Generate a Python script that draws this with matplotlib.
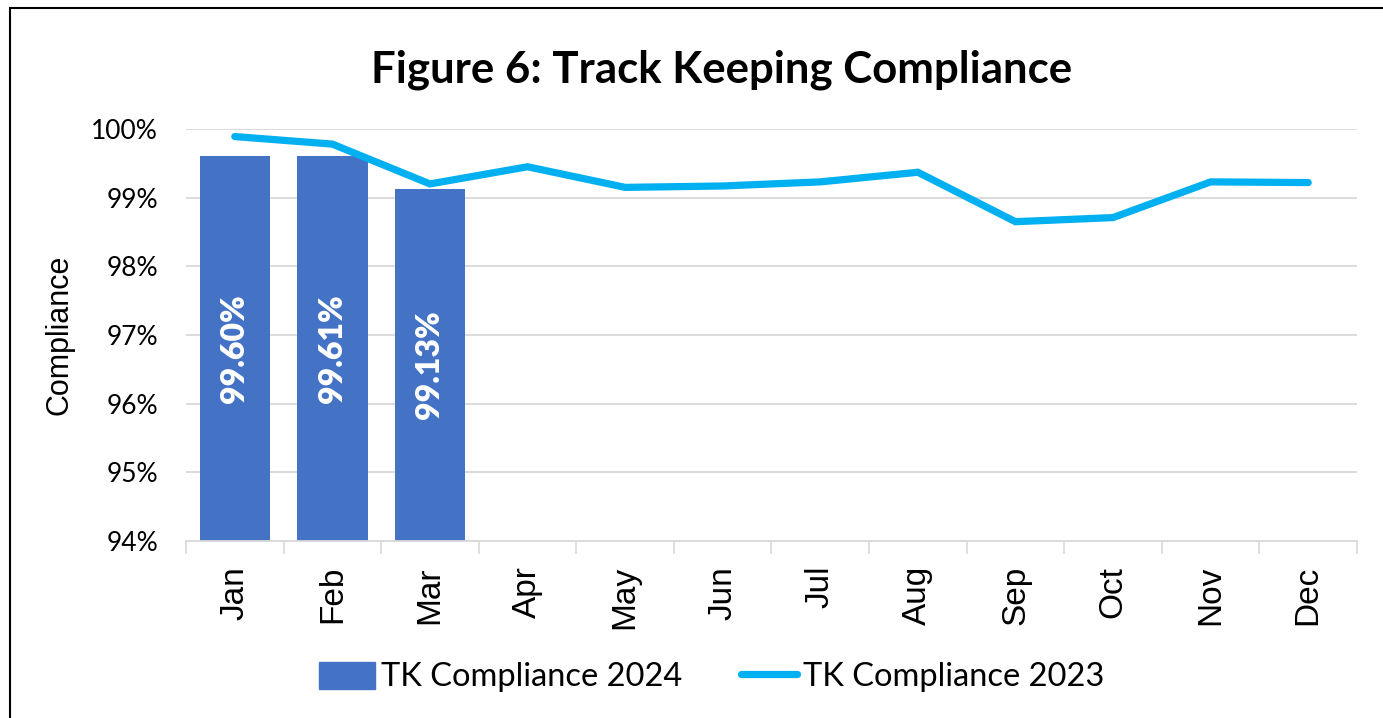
import matplotlib.pyplot as plt
import matplotlib.patches as mpatches
import numpy as np

# Data
months = ['Jan', 'Feb', 'Mar', 'Apr', 'May', 'Jun', 'Jul', 'Aug', 'Sep', 'Oct', 'Nov', 'Dec']
tk_2024 = [99.60, 99.61, 99.13]
tk_2023 = [99.89, 99.78, 99.20, 99.45, 99.15, 99.17, 99.23, 99.37, 98.65, 98.71, 99.23, 99.22]
y_ticks = [94, 95, 96, 97, 98, 99, 100]

bar_color = '#4472C4'
line_color = '#00B0F0'
font_main = ['Lato', 'DejaVu Sans']
font_ticks = ['Liberation Sans', 'DejaVu Sans']

fig = plt.figure(figsize=(13.83, 7.18), dpi=100)
ax = fig.add_axes([186 / 1383, 1 - 541 / 718, (1357 - 186) / 1383, (541 - 129) / 718])
y_min = y_ticks[0]

x = np.arange(len(months))
bars = ax.bar(x[:len(tk_2024)], tk_2024, width=0.72, color=bar_color,
              label='TK Compliance 2024', zorder=2)
ax.plot(x, tk_2023, color=line_color, linewidth=5.2, solid_capstyle='round',
        solid_joinstyle='miter', label='TK Compliance 2023', zorder=3)

# value labels centred inside the bars
for rect, v in zip(bars, tk_2024):
    ax.text(rect.get_x() + rect.get_width() / 2, (y_min + v) / 2, f'{v:.2f}%',
            rotation=90, ha='center', va='center', color='white',
            fontsize=23, fontweight='heavy', family=font_main, zorder=4)

ax.set_xlim(-0.5, len(months) - 0.5)
ax.set_ylim(y_min, y_ticks[-1])
ax.set_yticks(y_ticks)
ax.set_yticklabels([f'{t}%' for t in y_ticks], fontsize=19, family=font_main)
ax.set_xticks(x)
ax.set_xticklabels(months, rotation=90, fontsize=24, family=font_ticks)
ax.tick_params(axis='x', length=0, pad=18)
ax.tick_params(axis='y', length=0, pad=20)

# category boundary ticks below the axis
ax.set_xticks(np.arange(-0.5, len(months)), minor=True)
ax.tick_params(axis='x', which='minor', length=9, color='#D9D9D9', width=1.2)

ax.grid(axis='y', color='#D9D9D9', linewidth=1.3, zorder=0)
ax.set_axisbelow(True)
for s in ['top', 'right', 'left']:
    ax.spines[s].set_visible(False)
ax.spines['bottom'].set_color('#D9D9D9')
ax.spines['bottom'].set_linewidth(1.3)

ax.set_ylabel('Compliance', fontsize=22, family=font_ticks, labelpad=12)

fig.text(722 / 1383, 1 - 70 / 718, 'Figure 6: Track Keeping Compliance',
         ha='center', va='center', fontsize=31.5, fontweight='bold', family=font_main)

handles = [mpatches.Patch(color=bar_color, label='TK Compliance 2024'),
           plt.Line2D([], [], color=line_color, linewidth=5.2, solid_capstyle='round',
                      label='TK Compliance 2023')]
fig.legend(handles=handles, loc='center', bbox_to_anchor=(712 / 1383, 1 - 677 / 718),
           ncol=2, frameon=False, prop={'family': font_main, 'size': 23.5},
           handlelength=1.7, handleheight=0.9, handletextpad=0.2, columnspacing=1.8)

# outer frame
fig.patches.append(mpatches.Rectangle((10 / 1383, -0.05), 1.2, 1 - 8 / 718 + 0.05,
                                      transform=fig.transFigure, fill=False,
                                      edgecolor='black', linewidth=1.5))

plt.savefig('out.png', dpi=100)
